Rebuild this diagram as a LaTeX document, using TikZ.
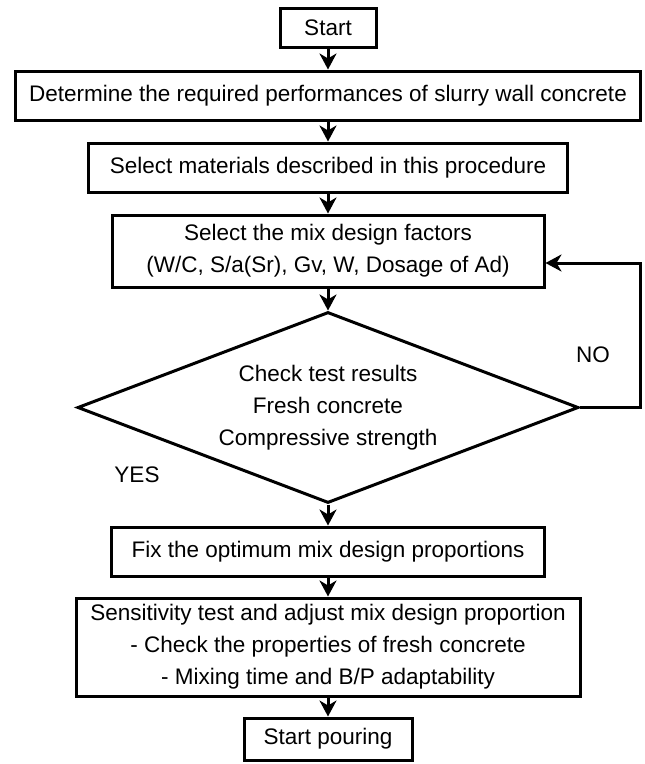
\documentclass[tikz,border=0pt]{standalone}
\usepackage{fontspec}
\setmainfont{Liberation Sans}
\usetikzlibrary{arrows.meta, calc, shapes.geometric}

\begin{document}
\begin{tikzpicture}[x=1pt, y=-1pt, line width=3pt,
  font=\fontsize{22.5}{32}\selectfont,
  box/.style={draw, rectangle, inner sep=0pt, align=center},
  arr/.style={-{Stealth[length=16pt, width=17pt, inset=5pt]}}]
\useasboundingbox (0,0) rectangle (645,764);
\node[box, minimum width=96pt, minimum height=39pt] (start) at (328,27.5) {Start};
\node[box, minimum width=625pt, minimum height=49pt] (det) at (328,95.5) {Determine the required performances of slurry wall concrete};
\node[box, minimum width=479pt, minimum height=49pt] (mat) at (328,167.5) {Select materials described in this procedure};
\node[box, minimum width=432pt, minimum height=72pt] (fac) at (328,251) {Select the mix design factors\\(W/C, S/a(Sr), Gv, W, Dosage of Ad)};
\node[draw, diamond, aspect=2.6, inner sep=0pt, align=center, minimum width=501pt, minimum height=191pt] (chk) at (328,407.5) {Check test results\\Fresh concrete\\Compressive strength};
\node[box, minimum width=433pt, minimum height=49pt] (fix) at (328,551.5) {Fix the optimum mix design proportions};
\node[box, minimum width=504pt, minimum height=98pt] (sens) at (328,647) {Sensitivity test and adjust mix design proportion\\- Check the properties of fresh concrete\\- Mixing time and B/P adaptability};
\node[box, minimum width=168pt, minimum height=42pt] (pour) at (328,739) {Start pouring};
\foreach \a/\b in {start/det, det/mat, mat/fac, fac/chk, chk/fix, fix/sens, sens/pour}
  \draw[arr] (\a) -- (\b);
% NO goes back up to the factors
\coordinate (back) at (640,407.5);
\draw[arr] (chk.east) -- (back) |- ([yshift=-12pt]fac.east);
\path
(593,355) node (no) {NO};
\path
(137,475) node (yes) {YES};
\end{tikzpicture}
\end{document}
